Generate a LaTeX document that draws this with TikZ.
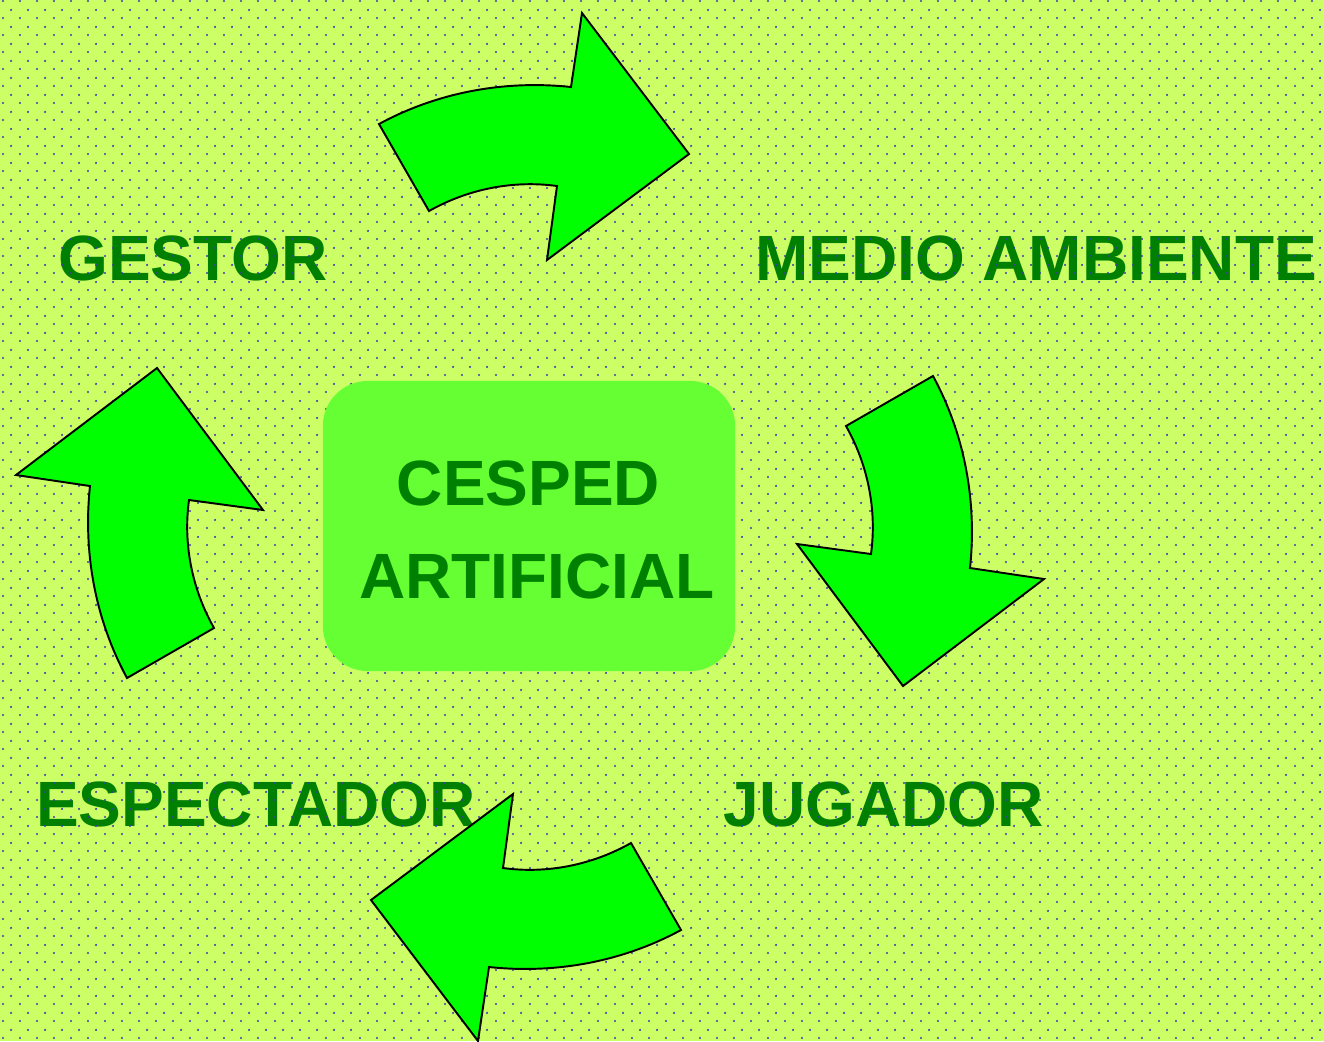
\documentclass[tikz,border=0pt]{standalone}
\usepackage{fontspec}
\setmainfont{Liberation Sans}
\usetikzlibrary{patterns}

\definecolor{bgcol}{RGB}{204,255,102}
\definecolor{dotcol}{RGB}{60,60,175}
\definecolor{arrowcol}{RGB}{0,255,0}
\definecolor{txtcol}{RGB}{0,128,0}
\definecolor{boxcol}{RGB}{102,255,51}

% staggered dots of the background
\pgfdeclarepatternformonly{grassdots}{\pgfpointorigin}{\pgfpoint{0.17cm}{0.17cm}}{\pgfpoint{0.17cm}{0.17cm}}{%
  \pgfpathcircle{\pgfpoint{0.0425cm}{0.0425cm}}{0.012cm}%
  \pgfpathcircle{\pgfpoint{0.1275cm}{0.1275cm}}{0.012cm}%
  \pgfusepath{fill}%
}

\tikzset{
  lbl/.style={inner sep=0pt, anchor=base, text=txtcol, font=\fontsize{18.2pt}{22pt}\selectfont\bfseries},
  bigarrow/.style={fill=arrowcol, draw=black, line width=0.55pt, line join=miter},
  cbox/.style={fill=boxcol, rounded corners=0.45cm, minimum width=4.12cm, minimum height=2.9cm, inner sep=0pt}
}

\begin{document}
\begin{tikzpicture}[x=0.01cm, y=-0.01cm]

    % Page size and pivot of the arrows
    \def\w{1324}
    \def\h{1041}
    \def\cx{530}    % x pivot
    \def\cy{527}    % y pivot
    \useasboundingbox (0,0) rectangle (\w,\h);

    % Background
    \fill[bgcol] (0,0) rectangle (\w,\h);

    % Labels
    \node[lbl] (gestor)     at (193,280)   {GESTOR};
    \node[lbl] (medio)      at (1036,280)  {MEDIO AMBIENTE};
    \node[lbl] (espectador) at (256,826.5) {ESPECTADOR};
    \node[lbl] (jugador)    at (884,826)   {JUGADOR};

    % Dots
    \fill[pattern=grassdots, pattern color=dotcol] (0,0) rectangle (\w,\h);

    % Arrows, one shape turned four times
    \foreach \ang in {0,-90,-180,-270}{
        \draw[bigarrow, rotate around={\ang:(\cx,\cy)}] (379,124) .. controls (438,92) and (505,80) .. (571,87) -- (582,13) -- (689,154) -- (547,260) -- (557,186) .. controls (513,180) and (468,189) .. (429,211) -- cycle;
    }

    % Centre box
    \node[cbox] (box) at (529,526) {};
    \node[lbl] (cesped)     at (528.5,505.5) {CESPED};
    \node[lbl] (artificial) at (537,598.3)   {ARTIFICIAL};

\end{tikzpicture}
\end{document}
